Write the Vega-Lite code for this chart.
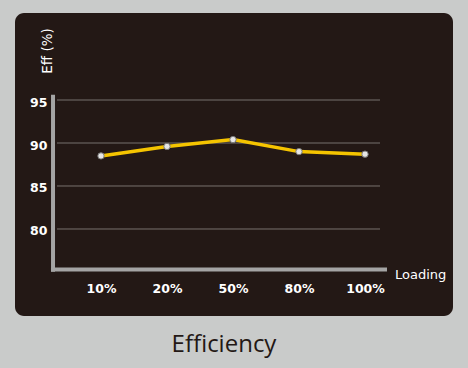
{
  "$schema": "https://vega.github.io/schema/vega-lite/v6.json",
  "width": 438,
  "height": 303,
  "autosize": {"type": "none"},
  "padding": {"left": 15, "top": 13, "right": 15, "bottom": 52},
  "background": "#c9cbca",
  "config": {
    "view": {"fill": "#231815", "stroke": null, "cornerRadius": 9}
  },
  "title": {
    "text": "Efficiency",
    "orient": "bottom",
    "anchor": "middle",
    "font": "Open Sans",
    "fontSize": 24,
    "fontWeight": "normal",
    "color": "#231815",
    "offset": 17,
    "dx": -10
  },
  "datasets": {
    "eff": [
      {"load": "10%", "idx": 1, "eff": 88.5},
      {"load": "20%", "idx": 2, "eff": 89.6},
      {"load": "50%", "idx": 3, "eff": 90.4},
      {"load": "80%", "idx": 4, "eff": 89.0},
      {"load": "100%", "idx": 5, "eff": 88.7}
    ],
    "grid": [{"g": 80}, {"g": 85}, {"g": 90}, {"g": 95}],
    "one": [{"k": 1}]
  },
  "layer": [
    {
      "data": {"name": "grid"},
      "mark": {"type": "rule", "color": "#77716e", "strokeWidth": 1},
      "encoding": {
        "y": {"field": "g", "type": "quantitative"},
        "x": {"datum": 0.333, "type": "quantitative"},
        "x2": {"datum": 5.227}
      }
    },
    {
      "data": {"name": "one"},
      "mark": {"type": "rule", "color": "#a4a4a4", "strokeWidth": 4},
      "encoding": {
        "x": {"datum": 0.273, "type": "quantitative"},
        "y": {"datum": 75.03, "type": "quantitative"},
        "y2": {"datum": 95.6}
      }
    },
    {
      "data": {"name": "one"},
      "mark": {"type": "rule", "color": "#a4a4a4", "strokeWidth": 4},
      "encoding": {
        "y": {"datum": 75.29, "type": "quantitative"},
        "x": {"datum": 0.242, "type": "quantitative"},
        "x2": {"datum": 5.333}
      }
    },
    {
      "data": {"name": "eff"},
      "mark": {"type": "line", "color": "#f5c400", "strokeWidth": 3.5},
      "encoding": {
        "x": {
          "field": "idx",
          "type": "quantitative",
          "scale": {"domain": [-0.303, 6.333], "nice": false, "zero": false},
          "axis": {
            "title": null,
            "values": [1, 2, 3, 4, 5],
            "labelExpr": "['10%','20%','50%','80%','100%'][datum.value-1]",
            "domain": false,
            "ticks": false,
            "grid": false,
            "offset": -28,
            "labelPadding": 0,
            "labelBaseline": "middle",
            "labelColor": "#ffffff",
            "labelFont": "DejaVu Sans",
            "labelFontWeight": "bold",
            "labelFontSize": 12.5
          }
        },
        "y": {
          "field": "eff",
          "type": "quantitative",
          "scale": {"domain": [69.88, 105.12], "nice": false, "zero": false},
          "axis": {
            "title": null,
            "values": [80, 85, 90, 95],
            "domain": false,
            "ticks": false,
            "grid": false,
            "offset": -37,
            "labelPadding": 5,
            "labelOffset": 2,
            "labelColor": "#ffffff",
            "labelFont": "DejaVu Sans",
            "labelFontWeight": "bold",
            "labelFontSize": 12.5
          }
        }
      }
    },
    {
      "data": {"name": "eff"},
      "mark": {"type": "point", "filled": true, "fill": "#e6e6e6", "stroke": "#7a7a7a", "strokeWidth": 1, "size": 40, "opacity": 1},
      "encoding": {
        "x": {"field": "idx", "type": "quantitative"},
        "y": {"field": "eff", "type": "quantitative"}
      }
    },
    {
      "data": {"name": "one"},
      "mark": {"type": "text", "text": "Eff (%)", "angle": 270, "align": "center", "baseline": "middle", "color": "#ffffff", "font": "DejaVu Sans", "fontSize": 13.5},
      "encoding": {
        "x": {"datum": 0.197, "type": "quantitative"},
        "y": {"datum": 100.7, "type": "quantitative"}
      }
    },
    {
      "data": {"name": "one"},
      "mark": {"type": "text", "text": "Loading", "align": "left", "baseline": "middle", "color": "#ffffff", "font": "DejaVu Sans", "fontSize": 13},
      "encoding": {
        "x": {"datum": 5.455, "type": "quantitative"},
        "y": {"datum": 74.65, "type": "quantitative"}
      }
    }
  ]
}
